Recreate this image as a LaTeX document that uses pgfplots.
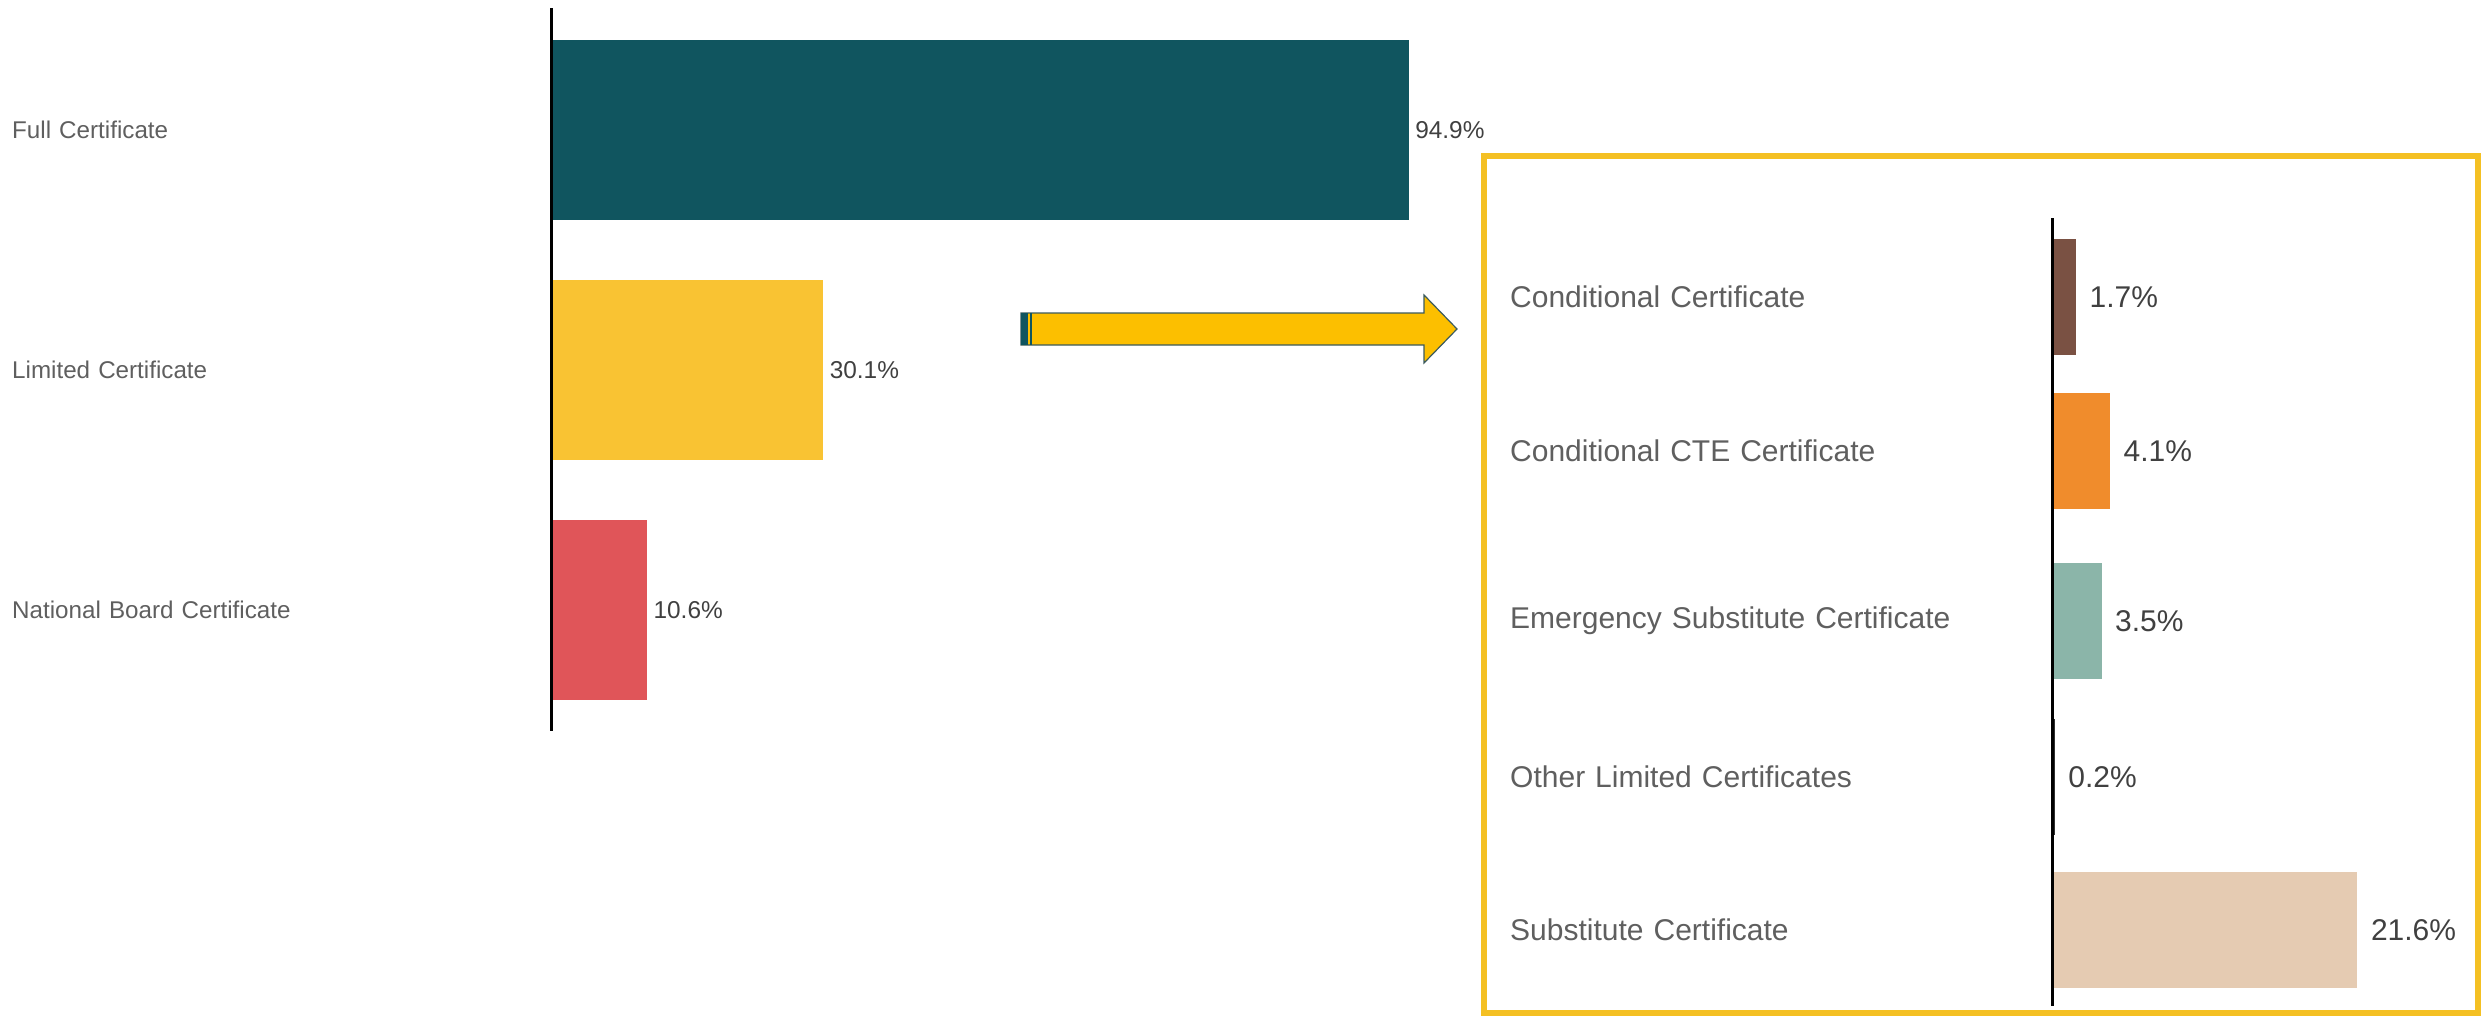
\documentclass[border=0pt]{standalone}
\usepackage{fontspec}
\setmainfont{Liberation Sans}
\usepackage{pgfplots}
\pgfplotsset{compat=1.18}
\definecolor{cFull}{HTML}{10555F}
\definecolor{cLim}{HTML}{F9C333}
\definecolor{cNat}{HTML}{E05559}
\definecolor{cCond}{HTML}{7A5143}
\definecolor{cCTE}{HTML}{F08C2C}
\definecolor{cEmer}{HTML}{8BB5A9}
\definecolor{cOther}{HTML}{303030}
\definecolor{cSub}{HTML}{E5CBB2}
\definecolor{cBox}{HTML}{F4C023}
\definecolor{cArrow}{HTML}{FCBF00}
\definecolor{cArrowEdge}{HTML}{3B5B5E}
\definecolor{labgray}{HTML}{5F5F5F}
\definecolor{valgray}{HTML}{404040}
\pgfplotsset{certbars/.style={
  xbar, clip=false, xmin=0, y dir=reverse, axis on top,
  axis y line*=left, axis x line=none,
  y axis line style={black, line width=0.75pt},
  major tick length=0pt, xtick=\empty,
  point meta=explicit symbolic, nodes near coords,
  every axis plot/.append style={draw=none, bar shift=0pt},
  scale only axis,
}}
\begin{document}
\begin{tikzpicture}
% zoom box
\draw[cBox, line width=1.5pt] (371pt,-39pt) rectangle (619.5pt,-253.25pt);
% main chart
\begin{axis}[certbars, at={(137.75pt,-2pt)}, anchor=north west,
  width=225.9pt, height=180.75pt, xmax=100, ymin=8, ymax=731, bar width=45pt,
  ytick={130,370,610},
  yticklabels={Full Certificate, Limited Certificate, National Board Certificate},
  yticklabel style={anchor=east, text width=134.5pt, align=left, inner sep=0pt,
    font=\fontsize{6.05}{7}\selectfont, text=labgray},
  nodes near coords style={anchor=west, inner sep=1.5pt,
    font=\fontsize{6.1}{7}\selectfont, text=valgray}]
\addplot[fill=cFull] coordinates {(94.9,130) [94.9\%]};
\addplot[fill=cLim] coordinates {(30.1,370) [30.1\%]};
\addplot[fill=cNat] coordinates {(10.6,610) [10.6\%]};
\end{axis}
% limited breakdown
\begin{axis}[certbars, at={(513pt,-54.5pt)}, anchor=north west,
  width=106.05pt, height=197pt, xmax=30, ymin=218, ymax=1006, bar width=29pt,
  ytick={297,451,621,777,930},
  yticklabels={Conditional Certificate, Conditional CTE Certificate, Emergency Substitute Certificate, Other Limited Certificates, Substitute Certificate},
  yticklabel style={anchor=east, text width=135.25pt, align=left, inner sep=0pt,
    font=\fontsize{7.5}{9}\selectfont, text=labgray},
  nodes near coords style={anchor=west, inner sep=3.2pt,
    font=\fontsize{7.5}{9}\selectfont, text=valgray}]
\addplot[fill=cCond] coordinates {(1.7,297) [1.7\%]};
\addplot[fill=cCTE] coordinates {(4.1,451) [4.1\%]};
\addplot[fill=cEmer] coordinates {(3.5,621) [3.5\%]};
\addplot[fill=cOther] coordinates {(0.2,777) [0.2\%]};
\addplot[fill=cSub] coordinates {(21.6,930) [21.6\%]};
\end{axis}
% arrow
\filldraw[fill=cArrow, draw=cArrowEdge, line width=0.3pt]
  (255.25pt,-78.25pt) -- (356pt,-78.25pt) -- (356pt,-73.75pt) -- (364.25pt,-82.25pt)
  -- (356pt,-90.75pt) -- (356pt,-86.25pt) -- (255.25pt,-86.25pt) -- cycle;
\fill[cFull] (255.25pt,-78.25pt) rectangle (257pt,-86.25pt);
\draw[cFull, line width=0.35pt] (257.7pt,-78.25pt) -- (257.7pt,-86.25pt);
\pgfresetboundingbox
\useasboundingbox (0pt,0pt) rectangle (620.25pt,-254pt);
\end{tikzpicture}
\end{document}
